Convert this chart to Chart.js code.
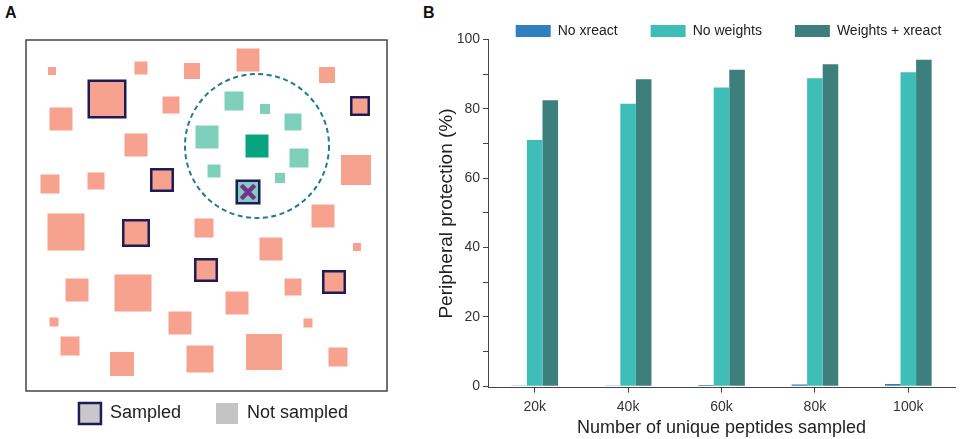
<!DOCTYPE html>
<html>
<head>
<meta charset="utf-8">
<script src="https://cdn.jsdelivr.net/npm/chart.js@4/dist/chart.umd.min.js"></script>
<style>
  html, body { margin: 0; padding: 0; width: 960px; height: 439px; overflow: hidden; background: #fff; }
  .panel-label { position: absolute; font: bold 16px "Liberation Sans", Arial, sans-serif; line-height: 1; color: #111; }
  #wrapA { position: absolute; left: 0; top: 0; width: 420px; height: 439px; }
  #wrapB { position: absolute; left: 420px; top: -9px; width: 617px; height: 448px; }
</style>
</head>
<body>
<div class="panel-label" style="left:5px;top:5px;">A</div>
<div class="panel-label" style="left:423px;top:5px;">B</div>
<div id="wrapA"><canvas id="chartA"></canvas></div>
<div id="wrapB"><canvas id="chartB"></canvas></div>
<script>
// ---------------- Panel B data ----------------
const categories = ['20k', '40k', '60k', '80k', '100k'];
const noXreact = [0.1, 0.2, 0.4, 0.5, 0.7];
const noWeights = [71.0, 81.4, 86.1, 88.8, 90.5];
const weightsXreact = [82.4, 88.5, 91.2, 92.8, 94.1];
const yTicks = [0, 10, 20, 30, 40, 50, 60, 70, 80, 90, 100];
const seriesNames = ['No xreact', 'No weights', 'Weights + xreact'];

// ---------------- Panel A data (schematic peptide space) ----------------
const notSampledX = [26, 115, 166, 222, 301, 35, 145, 110, 24, 70, 330, 297, 40, 178, 245, 331, 51, 107, 267, 211, 28, 154, 282, 44, 238, 96, 174, 312];
const notSampledY = [31, 28, 31, 20, 35, 79, 65, 105, 144, 141, 130, 176, 192, 188, 209, 207, 250, 253, 247, 263, 282, 283, 283, 306, 312, 324, 319, 317];
const notSampledSize = [8, 13, 16, 23, 16, 23, 17, 23, 19, 17, 30, 23, 37, 19, 23, 8, 23, 37, 17, 23, 9, 23, 9, 19, 36, 24, 27, 19];
const sampledX = [81, 334, 136, 110, 180, 308];
const sampledY = [59, 66, 140, 193, 230, 242];
const sampledSize = [39, 20, 24, 28, 24, 24];
const neighbourX = [208, 239, 267, 181, 273, 188, 254];
const neighbourY = [61, 69, 82, 97, 118, 131, 138];
const neighbourSize = [19, 10, 17, 23, 19, 13, 10];
const queryX = [231], queryY = [106], querySize = [23];
const sampledNeighbourX = [222], sampledNeighbourY = [152], sampledNeighbourSize = [25];
const radiusCircle = [72];
const frameX = [0, 361];
const frameY = [0, 351];
const legendA = ['Sampled', 'Not sampled'];

Chart.defaults.font.family = '"Liberation Sans", Arial, sans-serif';
Chart.defaults.color = '#222';

const SALMON = '#f6a28e', TEAL = '#7fd0bb', GREEN = '#07a47f', NAVY = '#1d1b58', PURPLE = '#7b2d8c', CIRCLE = '#1f7b93';
const BORDER = 2.5;

function pts(xs, ys) { return xs.map((x, i) => ({ x: x, y: ys[i] })); }
function rectRadius(sizes, bw) { return sizes.map(s => (s - bw) / Math.SQRT2); }

const dashPlugin = {
  id: 'dashCircle',
  beforeDatasetDraw(chart, args) {
    if (chart.data.datasets[args.index].dashed) { chart.ctx.save(); chart.ctx.setLineDash([5, 3.5]); }
  },
  afterDatasetDraw(chart, args) {
    if (chart.data.datasets[args.index].dashed) { chart.ctx.restore(); }
  }
};
const framePlugin = {
  id: 'frameA',
  beforeDatasetsDraw(chart) {
    const xs = chart.scales.x, ys = chart.scales.y, ctx = chart.ctx;
    const x0 = xs.getPixelForValue(frameX[0]), x1 = xs.getPixelForValue(frameX[1]);
    const y0 = ys.getPixelForValue(frameY[0]), y1 = ys.getPixelForValue(frameY[1]);
    ctx.save();
    ctx.strokeStyle = '#444';
    ctx.lineWidth = 1.5;
    ctx.strokeRect(x0, y0, x1 - x0, y1 - y0);
    ctx.restore();
  }
};

new Chart(document.getElementById('chartA'), {
  type: 'scatter',
  data: {
    datasets: [
      { label: 'X', data: pts(sampledNeighbourX, sampledNeighbourY), pointStyle: 'crossRot', pointRadius: 9.5,
        borderColor: PURPLE, backgroundColor: PURPLE, pointBorderWidth: 4.5, clip: false },
      { label: 'Sampled neighbour', data: pts(sampledNeighbourX, sampledNeighbourY), pointStyle: 'rect',
        pointRadius: rectRadius(sampledNeighbourSize, BORDER), backgroundColor: TEAL, borderColor: NAVY, pointBorderWidth: BORDER, clip: false },
      { label: 'Query', data: pts(queryX, queryY), pointStyle: 'rect', pointRadius: rectRadius(querySize, 0),
        backgroundColor: GREEN, borderColor: GREEN, pointBorderWidth: 0, clip: false },
      { label: 'Neighbours', data: pts(neighbourX, neighbourY), pointStyle: 'rect', pointRadius: rectRadius(neighbourSize, 0),
        backgroundColor: TEAL, borderColor: TEAL, pointBorderWidth: 0, clip: false },
      { label: legendA[0], data: pts(sampledX, sampledY), pointStyle: 'rect', pointRadius: rectRadius(sampledSize, BORDER),
        backgroundColor: SALMON, borderColor: NAVY, pointBorderWidth: BORDER, clip: false },
      { label: legendA[1], data: pts(notSampledX, notSampledY), pointStyle: 'rect', pointRadius: rectRadius(notSampledSize, 0),
        backgroundColor: SALMON, borderColor: SALMON, pointBorderWidth: 0, clip: false },
      { label: 'Neighbourhood', dashed: true, data: pts(queryX, queryY), pointStyle: 'circle', pointRadius: radiusCircle,
        backgroundColor: 'rgba(0,0,0,0)', borderColor: CIRCLE, pointBorderWidth: 2, clip: false }
    ]
  },
  options: {
    responsive: true, maintainAspectRatio: false, animation: false, events: [],
    layout: { autoPadding: false, padding: { left: 40, right: 33, top: 40, bottom: 5 } },
    scales: {
      x: { type: 'linear', min: 14, max: 361, display: false },
      y: { type: 'linear', min: 0, max: 328, reverse: true, display: false }
    },
    plugins: {
      tooltip: { enabled: false },
      legend: {
        position: 'bottom', fullSize: true,
        labels: {
          boxWidth: 22, boxHeight: 21, padding: 35, color: '#222',
          font: { size: 18 },
          generateLabels: () => [
            { text: legendA[0], fillStyle: '#c8c8c8', strokeStyle: NAVY, lineWidth: 2.5, hidden: false, fontColor: '#222' },
            { text: legendA[1], fillStyle: '#c4c4c4', strokeStyle: '#c4c4c4', lineWidth: 0, hidden: false, fontColor: '#222' }
          ]
        }
      }
    }
  },
  plugins: [dashPlugin, framePlugin]
});

// ---------------- Panel B chart ----------------
const colorsB = ['#2f7fc1', '#3fbdb7', '#3d7f7c'];
const axisColor = '#444';
new Chart(document.getElementById('chartB'), {
  type: 'bar',
  data: {
    labels: categories,
    datasets: [
      { label: seriesNames[0], data: noXreact, backgroundColor: colorsB[0] },
      { label: seriesNames[1], data: noWeights, backgroundColor: colorsB[1] },
      { label: seriesNames[2], data: weightsXreact, backgroundColor: colorsB[2] }
    ]
  },
  options: {
    responsive: true, maintainAspectRatio: false, animation: false, events: [],
    layout: { autoPadding: false, padding: { left: 0, right: 0, top: 0, bottom: 0 } },
    datasets: { bar: { categoryPercentage: 0.5, barPercentage: 1.0, borderWidth: 0 } },
    scales: {
      x: {
        type: 'category', offset: true,
        afterFit(scale) { scale.height = 51.3; },
        grid: { offset: false, drawOnChartArea: false, drawTicks: true, tickLength: 5, color: axisColor },
        border: { display: true, color: axisColor, width: 1 },
        ticks: { color: '#333', font: { size: 14 }, padding: 6, maxRotation: 0 },
        title: { display: true, text: 'Number of unique peptides sampled', color: '#222', font: { size: 18 }, padding: { top: 0, bottom: 0 } }
      },
      y: {
        type: 'linear', min: -0.4, max: 100,
        afterFit(scale) { scale.width = 68; },
        afterBuildTicks(scale) { scale.ticks = yTicks.map(v => ({ value: v })); },
        grid: { drawOnChartArea: false, drawTicks: true, tickLength: 5, color: axisColor },
        border: { display: true, color: axisColor, width: 1 },
        ticks: { color: '#333', font: { size: 14 }, padding: 3, callback: v => (v % 20 === 0 ? String(v) : '') },
        title: { display: true, text: 'Peripheral protection (%)', color: '#222', font: { size: 19 }, padding: { top: 15.6, bottom: 0 } }
      },
      gutter: {
        type: 'linear', position: 'right', display: true,
        afterFit(scale) { scale.width = 82; },
        grid: { display: false, drawTicks: false },
        border: { display: false },
        ticks: { display: false }
      }
    },
    plugins: {
      tooltip: { enabled: false },
      legend: {
        position: 'top', fullSize: true, maxHeight: 48.3,
        labels: { boxWidth: 35, boxHeight: 12, padding: 33, color: '#222', font: { size: 14 } }
      }
    }
  }
});
</script>
</body>
</html>
